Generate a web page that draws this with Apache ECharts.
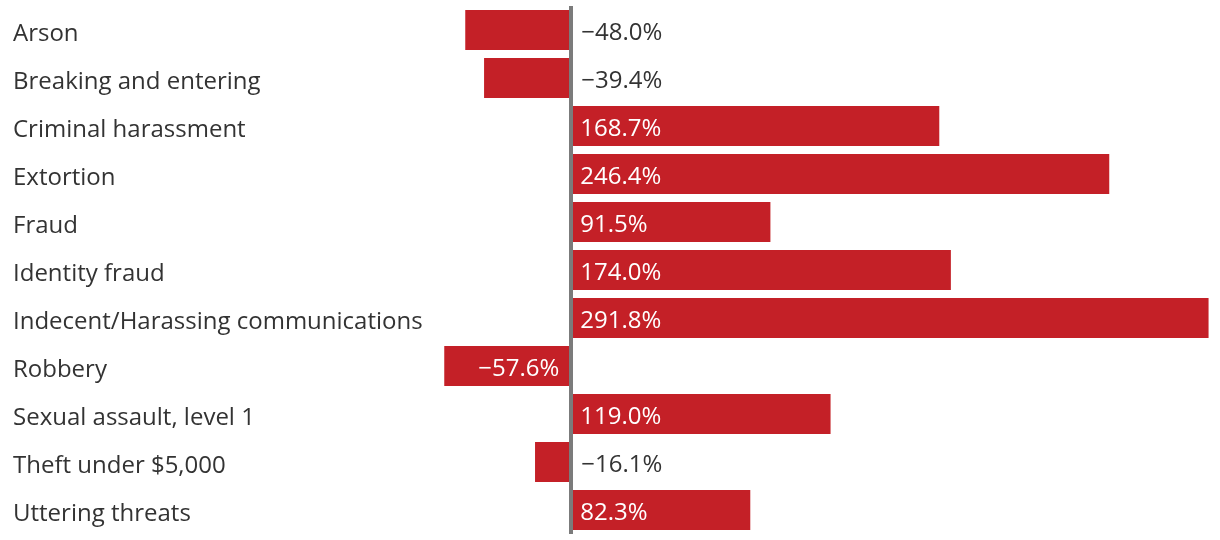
<!DOCTYPE html>
<html><head><meta charset="utf-8">
<script src="https://cdn.jsdelivr.net/npm/echarts@6/dist/echarts.min.js"></script>
<style>html,body{margin:0;padding:0;background:#fff}#c{width:1220px;height:540px}</style>
</head><body><div id="c"></div>
<script>
const categories = ["Arson","Breaking and entering","Criminal harassment","Extortion","Fraud","Identity fraud","Indecent/Harassing communications","Robbery","Sexual assault, level 1","Theft under $5,000","Uttering threats"];
const values = [-48.0,-39.4,168.7,246.4,91.5,174.0,291.8,-57.6,119.0,-16.1,82.3];
const insideNegative = ["Robbery"];

const FONT = 'Open Sans';
const fmt = v => (v < 0 ? '\u2212' : '') + Math.abs(v).toFixed(1) + '%';

const data = values.map((v, i) => {
  let label;
  if (v >= 0) label = {position: 'insideLeft', distance: 10, color: '#fff'};
  else if (insideNegative.includes(categories[i])) label = {position: 'insideRight', distance: 11, color: '#fff'};
  else label = {position: 'right', distance: 11, color: '#333'};
  return {value: v, label};
});

const chart = echarts.init(document.getElementById('c'));
chart.setOption({
  animation: false,
  grid: {left: 439, width: 770, top: 6, height: 528},
  xAxis: {type: 'value', min: -60, max: 292, show: false},
  yAxis: {
    type: 'category', data: categories, inverse: true,
    axisLine: {show: false}, axisTick: {show: false},
    axisLabel: {
      align: 'left', margin: 426, fontFamily: FONT, fontSize: 24, color: '#333',
      formatter: v => '{a|' + v + '}',
      rich: {a: {fontFamily: FONT, fontSize: 24, color: '#333', padding: [8, 0, 0, 0]}}
    }
  },
  series: [{
    type: 'bar', data: data, barWidth: 40, itemStyle: {color: '#c42027'},
    label: {show: true, fontFamily: FONT, fontSize: 24, offset: [0, 3], formatter: p => fmt(p.value)},
    markLine: {
      silent: true, symbol: 'none', label: {show: false},
      lineStyle: {color: '#7b7b7b', width: 4, type: 'solid'},
      data: [{xAxis: 0}]
    }
  }]
});
</script></body></html>
